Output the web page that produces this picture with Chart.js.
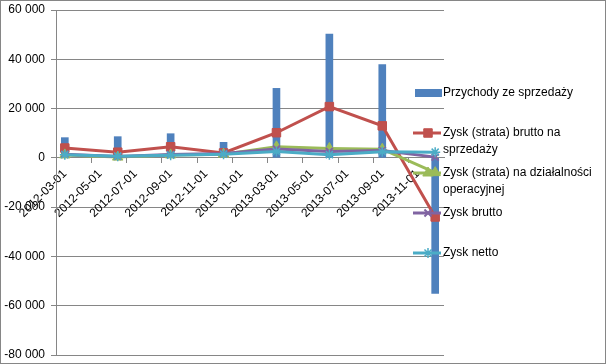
<!DOCTYPE html>
<html>
<head>
<meta charset="utf-8">
<script src="https://cdn.jsdelivr.net/npm/chart.js@4.4.0/dist/chart.umd.min.js"></script>
<style>
    body { margin: 0; background: #fff; }
    #wrap { position: relative; width: 606px; height: 364px; box-sizing: border-box; border: 1px solid #868686; }
    canvas { display: block; }
</style>
</head>
<body>
<div id="wrap"><canvas id="chart" width="604" height="362"></canvas></div>
<script>
// month categories of the date axis
const months = [
    '2012-03-01', '2012-04-01', '2012-05-01', '2012-06-01', '2012-07-01', '2012-08-01',
    '2012-09-01', '2012-10-01', '2012-11-01', '2012-12-01', '2013-01-01', '2013-02-01',
    '2013-03-01', '2013-04-01', '2013-05-01', '2013-06-01', '2013-07-01', '2013-08-01',
    '2013-09-01', '2013-10-01', '2013-11-01', '2013-12-01'
]
// quarters that have values
const quarters = ['2012-03-01', '2012-06-01', '2012-09-01', '2012-12-01', '2013-03-01', '2013-06-01', '2013-09-01', '2013-12-01']

const przychody = [8200, 8600, 9800, 6300, 28200, 50200, 37900, -55000]
const zyskSprzedaz = [4000, 2300, 4500, 2000, 10200, 20800, 13000, -24000]
const zyskOperacyjny = [1200, 300, 1200, 1500, 4500, 3800, 3500, -6000]
const zyskBrutto = [1500, 600, 1400, 1800, 3600, 2600, 3000, 300]
const zyskNetto = [1300, 700, 1100, 1500, 2600, 1300, 2500, 2300]

const yTicks = { min: -80000, max: 60000, step: 20000 }

const gridGray = '#868686'
const fontFamily = '"Liberation Sans", Arial, sans-serif'

const toPoints = values => quarters.map((q, i) => ({ x: q, y: values[i] }))

const formatNumber = v => {
    const s = String(Math.abs(v)).replace(/\B(?=(\d{3})+(?!\d))/g, ' ')
    return v < 0 ? '-' + s : s
}

function lineSet(label, values, color, pointStyle, radius, pointBorder, order) {
    return {
        type: 'line',
        label: label,
        data: toPoints(values),
        borderColor: color,
        backgroundColor: color,
        borderWidth: 3,
        pointStyle: pointStyle,
        pointRadius: radius,
        pointBorderWidth: pointBorder,
        pointBackgroundColor: color,
        pointBorderColor: color,
        tension: 0,
        fill: false,
        order: order
    }
}

// legend on the right, drawn over the plot like in Excel
const sideLegend = {
    id: 'sideLegend',
    afterDraw(chart) {
        const ctx = chart.ctx
        ctx.save()
        ctx.font = '12px ' + fontFamily
        ctx.textBaseline = 'middle'
        ctx.fillStyle = '#000'
        chart.data.datasets.forEach((ds, i) => {
            const y = 92 + i * 40
            if (ds.type === 'bar') {
                ctx.fillStyle = ds.backgroundColor
                ctx.fillRect(414, y - 4, 27, 8)
            } else {
                ctx.strokeStyle = ds.borderColor
                ctx.lineWidth = 3
                ctx.beginPath()
                ctx.moveTo(412, y)
                ctx.lineTo(440, y)
                ctx.stroke()
                ctx.fillStyle = ds.pointBackgroundColor
                ctx.lineWidth = ds.pointBorderWidth
                Chart.helpers.drawPoint(ctx, { pointStyle: ds.pointStyle, radius: ds.pointRadius, rotation: 0, borderWidth: ds.pointBorderWidth }, 427, y)
            }
            // simple word wrap
            const words = ds.label.split(' ')
            let lines = []
            let line = ''
            words.forEach(w => {
                const test = line ? line + ' ' + w : w
                if (ctx.measureText(test).width > 152 && line) {
                    lines.push(line)
                    line = w
                } else {
                    line = test
                }
            })
            lines.push(line)
            ctx.fillStyle = '#000'
            lines.forEach((l, j) => ctx.fillText(l, 442, y + j * 16.5))
        })
        ctx.restore()
    }
}

new Chart(document.getElementById('chart'), {
    data: {
        labels: months,
        datasets: [
            {
                type: 'bar',
                label: 'Przychody ze sprzedaży',
                data: toPoints(przychody),
                backgroundColor: '#4F81BD',
                barThickness: 7,
                order: 10
            },
            lineSet('Zysk (strata) brutto na sprzedaży', zyskSprzedaz, '#C0504D', 'rect', 6, 1, 4),
            lineSet('Zysk (strata) na działalności operacyjnej', zyskOperacyjny, '#9BBB59', 'triangle', 6, 1, 3),
            lineSet('Zysk brutto', zyskBrutto, '#8064A2', 'crossRot', 5, 2, 2),
            lineSet('Zysk netto', zyskNetto, '#4BACC6', 'star', 5, 1.5, 1)
        ]
    },
    options: {
        responsive: false,
        animation: false,
        devicePixelRatio: 1,
        layout: { padding: { left: 0, top: 9, right: 161, bottom: 8 } },
        plugins: {
            legend: { display: false },
            tooltip: { enabled: false }
        },
        scales: {
            x: {
                type: 'category',
                axis: 'x',
                position: { y: 0 },
                offset: true,
                afterFit: scale => {
                    scale.paddingLeft = 0
                    scale.paddingRight = 0
                    scale.paddingTop = 0
                    scale.paddingBottom = 0
                },
                grid: {
                    offset: true,
                    drawOnChartArea: false,
                    tickLength: 5,
                    color: c => (c.index % 2 === 0 ? gridGray : 'rgba(0,0,0,0)')
                },
                border: { color: gridGray },
                ticks: {
                    autoSkip: false,
                    maxRotation: 45,
                    minRotation: 45,
                    padding: 4,
                    color: '#000',
                    font: { family: fontFamily, size: 12 },
                    callback: (v, i) => (i % 2 === 0 ? months[i] : '')
                }
            },
            y: {
                type: 'linear',
                min: yTicks.min,
                max: yTicks.max,
                afterFit: scale => {
                    scale.width = 55
                    scale.paddingTop = 0
                    scale.paddingBottom = 0
                },
                grid: { color: gridGray, tickLength: 5 },
                border: { color: gridGray },
                ticks: {
                    stepSize: yTicks.step,
                    padding: 6,
                    color: '#000',
                    font: { family: fontFamily, size: 12 },
                    callback: v => formatNumber(v)
                }
            }
        }
    },
    plugins: [sideLegend]
})
</script>
</body>
</html>
